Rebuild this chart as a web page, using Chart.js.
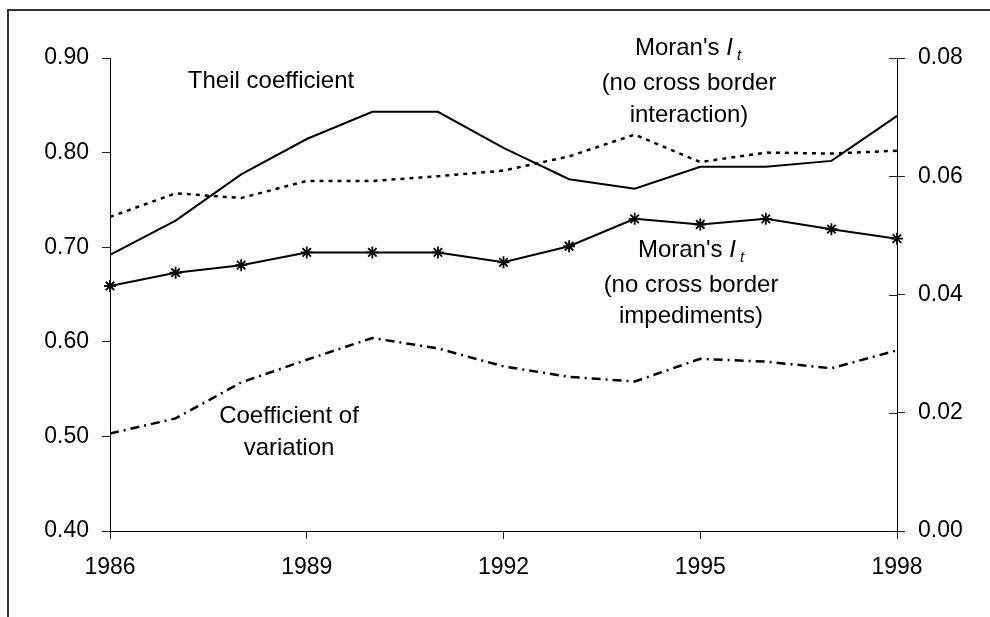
<!DOCTYPE html>
<html>
<head>
<meta charset="utf-8">
<script src="https://cdn.jsdelivr.net/npm/chart.js@4/dist/chart.umd.min.js"></script>
<style>
  html, body { margin: 0; padding: 0; background: #fff; }
  #wrap { width: 990px; height: 617px; position: relative; }
</style>
</head>
<body>
<div id="wrap"><canvas id="chart"></canvas></div>
<script>
// ===== DATA =====
const years = [1986, 1987, 1988, 1989, 1990, 1991, 1992, 1993, 1994, 1995, 1996, 1997, 1998];

// right axis
const theil = [0.0467, 0.0525, 0.0603, 0.0663, 0.0709, 0.0709, 0.0648, 0.0595, 0.0579, 0.0616, 0.0616, 0.0626, 0.0702];

// left axis
const moranInteraction = [0.732, 0.757, 0.752, 0.770, 0.770, 0.775, 0.781, 0.796, 0.819, 0.790, 0.800, 0.799, 0.802];
const moranImpediments = [0.659, 0.673, 0.681, 0.6945, 0.6945, 0.6945, 0.684, 0.701, 0.730, 0.724, 0.730, 0.719, 0.709];
const coefVariation = [0.503, 0.519, 0.557, 0.581, 0.604, 0.593, 0.574, 0.563, 0.558, 0.582, 0.579, 0.572, 0.591];

const leftAxis = { min: 0.40, max: 0.90, step: 0.10 };
const rightAxis = { min: 0.00, max: 0.08, step: 0.02 };
const yearAxis = { min: 1986, max: 1998, step: 3 };

const FONT = "'Liberation Sans', Arial, sans-serif";

function pts(values) {
  return years.map((yr, i) => ({ x: yr, y: values[i] }));
}

// ===== PLUGINS =====
const framePlugin = {
  id: "frame",
  beforeDraw(chart) {
    const ctx = chart.ctx;
    ctx.save();
    ctx.strokeStyle = "#333";
    ctx.lineWidth = 2;
    ctx.beginPath();
    ctx.moveTo(8, 617);
    ctx.lineTo(8, 10);
    ctx.lineTo(990, 10);
    ctx.stroke();
    ctx.restore();
  }
};

// right axis ticks cross the axis line
const innerTicks = {
  id: "innerTicks",
  afterDraw(chart) {
    const s = chart.scales.y2;
    const ctx = chart.ctx;
    ctx.save();
    ctx.strokeStyle = "#222";
    ctx.lineWidth = 1;
    s.ticks.forEach(t => {
      const py = Math.round(s.getPixelForValue(t.value)) + 0.5;
      ctx.beginPath();
      ctx.moveTo(s.left - 8, py);
      ctx.lineTo(s.left, py);
      ctx.stroke();
    });
    ctx.restore();
  }
};

function moranLabel(ctx, cx, y) {
  const main = "Moran's ";
  ctx.font = "24px " + FONT;
  const w1 = ctx.measureText(main).width;
  ctx.font = "italic 24px " + FONT;
  const w2 = ctx.measureText("I").width + 4;
  ctx.font = "italic 15px " + FONT;
  const w3 = ctx.measureText("t").width;
  let x = cx - (w1 + w2 + w3) / 2;
  ctx.textAlign = "left";
  ctx.font = "24px " + FONT;
  ctx.fillText(main, x, y);
  x += w1;
  ctx.font = "italic 24px " + FONT;
  ctx.fillText("I", x, y);
  x += w2;
  ctx.font = "italic 15px " + FONT;
  ctx.fillText("t", x, y + 5);
}

const labelsPlugin = {
  id: "labels",
  afterDraw(chart) {
    const ctx = chart.ctx;
    ctx.save();
    ctx.fillStyle = "#000";
    ctx.textBaseline = "alphabetic";

    ctx.font = "24px " + FONT;
    ctx.textAlign = "center";
    ctx.fillText("Theil coefficient", 271, 88);

    moranLabel(ctx, 688, 55);
    ctx.font = "24px " + FONT;
    ctx.textAlign = "center";
    ctx.fillText("(no cross border", 689, 90);
    ctx.fillText("interaction)", 689, 122);

    moranLabel(ctx, 691, 257);
    ctx.font = "24px " + FONT;
    ctx.textAlign = "center";
    ctx.fillText("(no cross border", 691, 292);
    ctx.fillText("impediments)", 691, 323);

    ctx.fillText("Coefficient of", 289, 423);
    ctx.fillText("variation", 289, 455);
    ctx.restore();
  }
};

// ===== CHART =====
new Chart(document.getElementById("chart"), {
  type: "line",
  data: {
    datasets: [
      {
        label: "Theil coefficient",
        data: pts(theil),
        yAxisID: "y2",
        borderColor: "#000",
        borderWidth: 2,
        pointRadius: 0
      },
      {
        label: "Moran's It (no cross border interaction)",
        data: pts(moranInteraction),
        yAxisID: "y",
        borderColor: "#000",
        borderWidth: 2.5,
        borderDash: [4, 5],
        pointRadius: 0
      },
      {
        label: "Moran's It (no cross border impediments)",
        data: pts(moranImpediments),
        yAxisID: "y",
        borderColor: "#000",
        borderWidth: 2,
        pointStyle: "star",
        pointRadius: 6,
        pointBorderWidth: 1.8,
        pointBorderColor: "#000",
        clip: false
      },
      {
        label: "Coefficient of variation",
        data: pts(coefVariation),
        yAxisID: "y",
        borderColor: "#000",
        borderWidth: 2.5,
        borderDash: [9, 5, 2, 5],
        pointRadius: 0
      }
    ]
  },
  options: {
    responsive: true,
    maintainAspectRatio: false,
    animation: false,
    layout: { padding: { top: 58, left: 0, right: 0, bottom: 0 } },
    elements: { line: { tension: 0 } },
    plugins: { legend: { display: false }, tooltip: { enabled: false } },
    scales: {
      x: {
        type: "linear",
        min: yearAxis.min,
        max: yearAxis.max,
        afterFit: s => { s.height = 86; },
        ticks: {
          stepSize: yearAxis.step,
          color: "#000",
          font: { family: FONT, size: 23 },
          padding: 15,
          maxRotation: 0,
          callback: v => String(v)
        },
        grid: { drawOnChartArea: false, drawTicks: true, tickLength: 8, color: "#222" },
        border: { color: "#000", width: 1 }
      },
      y: {
        position: "left",
        min: leftAxis.min,
        max: leftAxis.max,
        afterFit: s => { s.width = 110; },
        ticks: {
          stepSize: leftAxis.step,
          color: "#000",
          font: { family: FONT, size: 23 },
          padding: 13,
          callback: v => Number(v).toFixed(2)
        },
        grid: { drawOnChartArea: false, drawTicks: true, tickLength: 8, color: "#222" },
        border: { color: "#000", width: 1 }
      },
      y2: {
        position: "right",
        min: rightAxis.min,
        max: rightAxis.max,
        afterFit: s => { s.width = 93; },
        ticks: {
          stepSize: rightAxis.step,
          color: "#000",
          font: { family: FONT, size: 23 },
          padding: 13,
          callback: v => Number(v).toFixed(2)
        },
        grid: { drawOnChartArea: false, drawTicks: true, tickLength: 8, color: "#222" },
        border: { color: "#000", width: 1 }
      }
    }
  },
  plugins: [framePlugin, innerTicks, labelsPlugin]
});
</script>
</body>
</html>
